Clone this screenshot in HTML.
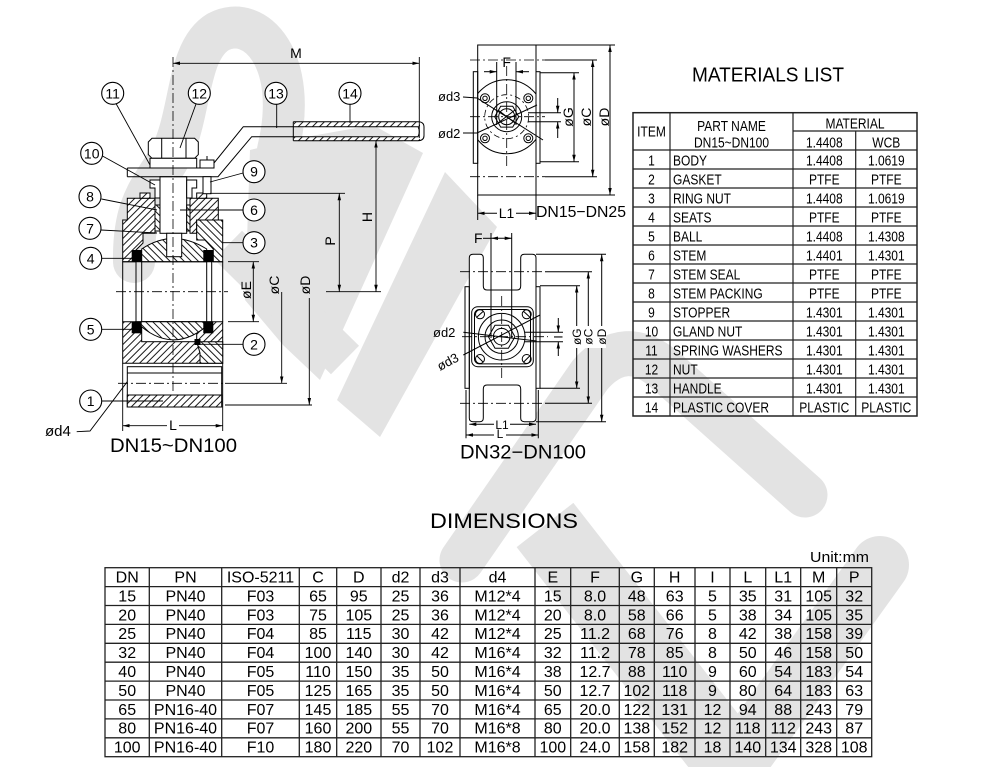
<!DOCTYPE html>
<html><head><meta charset="utf-8"><style>
html,body{margin:0;padding:0;background:#fff;}
svg{display:block;}
text{font-family:"Liberation Sans",sans-serif;fill:#000;}
</style></head><body>
<svg width="1000" height="767" viewBox="0 0 1000 767" xmlns="http://www.w3.org/2000/svg">
<defs>
<pattern id="h1" width="5" height="5" patternUnits="userSpaceOnUse" patternTransform="rotate(45)"><rect width="5" height="5" fill="#fff"/><line x1="0.5" y1="0" x2="0.5" y2="5" stroke="#000" stroke-width="0.9"/></pattern>
<pattern id="h2" width="5" height="5" patternUnits="userSpaceOnUse" patternTransform="rotate(-45)"><rect width="5" height="5" fill="#fff"/><line x1="0.5" y1="0" x2="0.5" y2="5" stroke="#000" stroke-width="0.9"/></pattern>
<marker id="a" viewBox="0 0 10 10" refX="10" refY="5" markerWidth="7" markerHeight="7" markerUnits="userSpaceOnUse" orient="auto-start-reverse"><path d="M0,2.5 L10,5 L0,7.5z" fill="#000"/></marker>
<clipPath id="cp1"><rect x="477.7" y="45" width="58.3" height="150"/></clipPath>
</defs>

<!-- watermark -->
<g fill="#e3e3e3" stroke="none">
<polygon points="250,150 300,138 373,125 423,153 320,380 283,345 245,300"/>
<polygon points="337,400 380,437 497,227 445,172"/>
</g>
<g stroke="#e3e3e3" fill="none" stroke-linecap="round" stroke-linejoin="round">
<path d="M278,150 C300,60 255,12 218,32 C185,52 192,120 168,160 C150,190 133,205 134,262" stroke-width="42"/>
<line x1="228" y1="245" x2="345" y2="360" stroke-width="40" stroke-linecap="butt"/>
<path d="M462,560 L590,375 Q625,335 665,370 L805,495" stroke-width="45"/>
<line x1="545" y1="525" x2="730" y2="762" stroke-width="72" stroke-linecap="butt"/>
<line x1="880" y1="565" x2="735" y2="767" stroke-width="58"/>
</g>

<!-- ================= LEFT DRAWING ================= -->
<g stroke="#000" stroke-width="1" fill="none">
<path d="M127.3,198.3 H155 V233.3 H143 V243 L136,250 V261.7 H122.7 V220 H127.3 Z" fill="url(#h1)"/>
<path d="M190,198.3 H218.3 V220 H196.7 V233.3 H190 Z" fill="url(#h1)"/>
<path d="M140,193 H150 V198.3 H140 Z" fill="url(#h1)"/>
<path d="M196.7,193 H206.7 V198.3 H196.7 Z" fill="url(#h1)"/>
<path d="M196.7,220 H222.7 V261.7 H213.3 V249 L205,240 H196.7 Z" fill="url(#h2)"/>
<path d="M141.7,261.7 V249 Q173,228 206.7,249 V261.7 Z" fill="url(#h2)"/>
<line x1="122.7" y1="261.7" x2="122.7" y2="321.7"/>
<line x1="222.7" y1="261.7" x2="222.7" y2="321.7"/>
<line x1="136" y1="261.7" x2="136" y2="321.7"/>
<line x1="141.7" y1="261.7" x2="141.7" y2="321.7"/>
<line x1="206.7" y1="261.7" x2="206.7" y2="321.7"/>
<line x1="211.7" y1="261.7" x2="211.7" y2="321.7"/>
<line x1="122.7" y1="261.7" x2="222.7" y2="261.7"/>
<path d="M122.7,321.7 H222.7 V363.3 H122.7 Z" fill="url(#h1)"/>
<rect x="141.7" y="321.7" width="55" height="20" fill="#fff"/>
<path d="M136,321.7 Q173,358 211.7,321.7 Z" fill="url(#h2)"/>
<path d="M196.7,341.7 H222.7 V363.3 H200 V353 Z" fill="url(#h2)"/>
<rect x="127.3" y="366.7" width="94.4" height="40.3" fill="#fff"/>
<line x1="127.3" y1="373" x2="221.7" y2="373"/>
<line x1="127.3" y1="395" x2="221.7" y2="395"/>
<rect x="127.3" y="395" width="94.4" height="12" fill="url(#h1)"/>
<rect x="160" y="176.7" width="26.7" height="56.6" fill="#fff"/>
<rect x="166.7" y="233.3" width="15" height="23.4" fill="#fff"/>
<rect x="155" y="205" width="5" height="26" fill="url(#h2)"/>
<rect x="186.7" y="205" width="3.3" height="26" fill="url(#h2)"/>
<path d="M150,180 H160 V198 H155 V188 H150 Z" fill="#fff"/>
<path d="M186.7,180 H196.7 V188 H192 V198 H186.7 Z" fill="#fff"/>
<path d="M127.3,168 H210 L243.3,126.7 H293.3" fill="none"/>
<path d="M127.3,176.7 H218 L251.7,136.7 H293.3" fill="none"/>
<line x1="127.3" y1="168" x2="127.3" y2="176.7"/>
<rect x="294" y="121.7" width="126" height="5" fill="url(#h1)" stroke="none"/>
<rect x="294" y="136.7" width="126" height="4" fill="url(#h1)" stroke="none"/>
<path d="M293.3,121.7 H418 Q424,121.7 424,127 V135.5 Q424,140.7 418,140.7 H293.3"/>
<line x1="293.3" y1="121.7" x2="293.3" y2="140.7"/>
<path d="M293.3,126.7 H418 Q420.5,131.7 418,136.7 H293.3"/>
<path d="M152,138.3 H194.6 L198.3,142 V154.6 L194.6,158.3 H152 L148.3,154.6 V142 Z" fill="#fff"/>
<line x1="161.7" y1="138.3" x2="161.7" y2="158.3"/>
<line x1="186" y1="138.3" x2="186" y2="158.3"/>
<rect x="150" y="158.3" width="46.7" height="9.7" fill="#fff"/>
<rect x="200" y="160" width="14" height="8" fill="#fff"/>
<rect x="203" y="176.7" width="8" height="17" fill="#fff"/>
<line x1="207" y1="156" x2="207" y2="160"/>
</g>
<g fill="#000">
<rect x="131.7" y="250" width="10" height="11.7"/>
<rect x="203.3" y="250" width="10" height="11.7"/>
<rect x="131.7" y="321.7" width="10" height="11.6"/>
<rect x="203.3" y="321.7" width="10" height="11.6"/>
<rect x="194.5" y="339" width="6" height="6"/>
</g>
<g stroke="#000" stroke-width="0.8" fill="none" stroke-dasharray="10 3 2 3">
<line x1="173" y1="57" x2="173" y2="392"/>
<line x1="116" y1="291.7" x2="228" y2="291.7"/>
<line x1="118" y1="383.3" x2="225" y2="383.3"/>
</g>
<g stroke="#000" stroke-width="0.9" fill="none">
<line x1="173" y1="63.3" x2="419.3" y2="63.3" marker-start="url(#a)" marker-end="url(#a)"/>
<line x1="419.3" y1="57" x2="419.3" y2="138"/>
<line x1="210" y1="193.3" x2="345" y2="193.3"/>
<line x1="326" y1="291.7" x2="381" y2="291.7"/>
<line x1="339.3" y1="193.3" x2="339.3" y2="291.7" marker-start="url(#a)" marker-end="url(#a)"/>
<line x1="376" y1="140.7" x2="376" y2="291.7" marker-start="url(#a)" marker-end="url(#a)"/>
<line x1="228" y1="261.7" x2="259" y2="261.7"/>
<line x1="228" y1="321.7" x2="259" y2="321.7"/>
<line x1="253.3" y1="261.7" x2="253.3" y2="321.7" marker-start="url(#a)" marker-end="url(#a)"/>
<line x1="225" y1="383.3" x2="287" y2="383.3"/>
<line x1="281.7" y1="292" x2="281.7" y2="383.3" marker-end="url(#a)"/>
<line x1="225" y1="405" x2="312" y2="405"/>
<line x1="309.3" y1="298" x2="309.3" y2="405" marker-end="url(#a)"/>
<line x1="122.7" y1="363.3" x2="122.7" y2="431"/>
<line x1="222.7" y1="363.3" x2="222.7" y2="431"/>
<line x1="122.7" y1="425.7" x2="167" y2="425.7" marker-start="url(#a)"/>
<line x1="179" y1="425.7" x2="222.7" y2="425.7" marker-end="url(#a)"/>
<polyline points="76.7,431.7 90,431 127.3,381.7"/>
<line x1="116" y1="103.5" x2="150" y2="165"/>
<line x1="196" y1="104" x2="180" y2="148"/>
<line x1="276.7" y1="104.5" x2="276.7" y2="128"/>
<line x1="350" y1="104.5" x2="350" y2="123"/>
<line x1="102.5" y1="156" x2="155" y2="185"/>
<line x1="243" y1="173" x2="210" y2="182"/>
<line x1="101.5" y1="199" x2="157" y2="210"/>
<line x1="243" y1="210" x2="180" y2="210"/>
<line x1="101" y1="230" x2="157" y2="233"/>
<line x1="243" y1="242.7" x2="222.7" y2="242.7"/>
<line x1="101.7" y1="258.3" x2="136.7" y2="258.3"/>
<line x1="101.7" y1="329.3" x2="135" y2="329.3"/>
<line x1="244" y1="344.3" x2="197" y2="344.3"/>
<line x1="101.7" y1="401" x2="163" y2="401"/>
</g>
<g stroke="#000" stroke-width="1.1" fill="#fff">
<circle cx="112.7" cy="93.3" r="11"/><circle cx="199.3" cy="93.3" r="11"/>
<circle cx="276" cy="93.3" r="11"/><circle cx="350" cy="93.3" r="11"/>
<circle cx="91.7" cy="153.3" r="11"/><circle cx="254" cy="171.7" r="11"/>
<circle cx="90" cy="196.7" r="11"/><circle cx="254" cy="210" r="11"/>
<circle cx="90" cy="228.3" r="11"/><circle cx="254" cy="242.7" r="11"/>
<circle cx="90.7" cy="258.3" r="11"/><circle cx="90.7" cy="329.3" r="11"/>
<circle cx="254" cy="344.3" r="11"/><circle cx="90.7" cy="401" r="11"/>
</g>
<g font-size="14" text-anchor="middle">
<text x="112.7" y="98.3">11</text><text x="199.3" y="98.3">12</text>
<text x="276" y="98.3">13</text><text x="350" y="98.3">14</text>
<text x="91.7" y="158.3">10</text><text x="254" y="176.7">9</text>
<text x="90" y="201.7">8</text><text x="254" y="215">6</text>
<text x="90" y="233.3">7</text><text x="254" y="247.7">3</text>
<text x="90.7" y="263.3">4</text><text x="90.7" y="334.3">5</text>
<text x="254" y="349.3">2</text><text x="90.7" y="406">1</text>
</g>
<g font-size="14" text-anchor="middle">
<text x="296" y="58">M</text>
<text x="173" y="430">L</text>
<text transform="translate(335,241) rotate(-90)">P</text>
<text transform="translate(372,217) rotate(-90)">H</text>
<text transform="translate(251,290) rotate(-90)">øE</text>
<text transform="translate(279,285) rotate(-90)">øC</text>
<text transform="translate(310,285) rotate(-90)">øD</text>
</g>
<text x="45" y="436" font-size="15">ød4</text>
<text x="110" y="452" font-size="19" textLength="127" lengthAdjust="spacingAndGlyphs">DN15~DN100</text>

<!-- ================= TOP MIDDLE DRAWING ================= -->
<g stroke="#000" stroke-width="1" fill="none">
<rect x="477.7" y="45" width="58.3" height="150" fill="#fff"/>
<rect x="473.3" y="71.7" width="4.4" height="91.6"/>
<rect x="536" y="71.7" width="4" height="91.6"/>
<g clip-path="url(#cp1)"><circle cx="506.7" cy="116.7" r="37"/></g>
<circle cx="506.7" cy="116.7" r="22" stroke-dasharray="6 3 2 3" stroke-width="0.8"/>
<circle cx="485" cy="98.3" r="4.5"/><circle cx="485" cy="98.3" r="2.2"/>
<circle cx="528.3" cy="98.3" r="4.5"/><circle cx="528.3" cy="98.3" r="2.2"/>
<circle cx="485" cy="138.3" r="4.5"/><circle cx="485" cy="138.3" r="2.2"/>
<circle cx="528.3" cy="138.3" r="4.5"/><circle cx="528.3" cy="138.3" r="2.2"/>
<circle cx="506.7" cy="116.7" r="15"/>
<polygon points="518.7,116.7 512.7,127.1 500.7,127.1 494.7,116.7 500.7,106.3 512.7,106.3"/>
<circle cx="506.7" cy="116.7" r="8"/>
<line x1="498" y1="110" x2="515" y2="123"/><line x1="498" y1="123" x2="515" y2="110"/>
<g stroke-dasharray="10 3 2 3" stroke-width="0.8">
<line x1="470" y1="60" x2="545" y2="60"/>
<line x1="470" y1="176.7" x2="545" y2="176.7"/>
<line x1="470" y1="116.7" x2="545" y2="116.7"/>
<line x1="506.7" y1="66" x2="506.7" y2="168"/>
</g>
<line x1="545" y1="60" x2="597" y2="60"/>
<line x1="545" y1="176.7" x2="597" y2="176.7"/>
<line x1="536" y1="45" x2="615" y2="45"/>
<line x1="536" y1="195" x2="615" y2="195"/>
<line x1="540" y1="72.7" x2="579" y2="72.7"/>
<line x1="540" y1="161.7" x2="579" y2="161.7"/>
<line x1="610" y1="45" x2="610" y2="195" marker-start="url(#a)" marker-end="url(#a)"/>
<line x1="592.7" y1="60" x2="592.7" y2="176.7" marker-start="url(#a)" marker-end="url(#a)"/>
<line x1="574" y1="72.7" x2="574" y2="161.7" marker-start="url(#a)" marker-end="url(#a)"/>
<line x1="528" y1="112.7" x2="561" y2="112.7"/>
<line x1="528" y1="121.7" x2="561" y2="121.7"/>
<line x1="557.7" y1="98" x2="557.7" y2="112.7" marker-end="url(#a)"/>
<line x1="557.7" y1="138" x2="557.7" y2="121.7" marker-end="url(#a)"/>
<line x1="496.7" y1="62" x2="496.7" y2="125"/>
<line x1="516" y1="62" x2="516" y2="125"/>
<line x1="484" y1="71.7" x2="496.7" y2="71.7" marker-end="url(#a)"/>
<line x1="529" y1="71.7" x2="516" y2="71.7" marker-end="url(#a)"/>
<polyline points="463,97 477,98 543,140"/>
<polyline points="463,133 477,133 537,105"/>
<line x1="477.7" y1="195" x2="477.7" y2="220"/>
<line x1="536" y1="195" x2="536" y2="220"/>
<line x1="477.7" y1="213.3" x2="497" y2="213.3" marker-start="url(#a)"/>
<line x1="516" y1="213.3" x2="536" y2="213.3" marker-end="url(#a)"/>
</g>
<g font-size="14" text-anchor="middle">
<text x="506.7" y="67">F</text>
<text x="506.5" y="218">L1</text>
<text transform="translate(573,117) rotate(-90)">øG</text>
<text transform="translate(591,117) rotate(-90)">øC</text>
<text transform="translate(609,117) rotate(-90)">øD</text>
</g>
<text x="438" y="101" font-size="13">ød3</text>
<text x="438" y="138" font-size="13">ød2</text>
<text x="536" y="217" font-size="16" textLength="90" lengthAdjust="spacingAndGlyphs">DN15−DN25</text>

<!-- ================= MIDDLE DRAWING ================= -->
<g stroke="#000" stroke-width="1" fill="none">
<path d="M469.3,258 Q469.3,254.3 473,254.3 H480 Q483.3,254.3 483.3,258 V286 Q483.3,290 487,290 H517 Q520.7,290 520.7,286 V258 Q520.7,254.3 524.4,254.3 H532.3 Q536,254.3 536,258 V418 Q536,421.7 532.3,421.7 H524.4 Q520.7,421.7 520.7,418 V389 Q520.7,385 517,385 H487 Q483.3,385 483.3,389 V418 Q483.3,421.7 480,421.7 H473 Q469.3,421.7 469.3,418 Z" fill="#fff"/>
<rect x="465" y="286.7" width="4.3" height="101.6"/>
<rect x="536" y="286.7" width="4" height="101.6"/>
<rect x="471.7" y="306.7" width="61.6" height="60" rx="6" fill="#fff"/>
<rect x="474.5" y="309.5" width="56" height="54.4" rx="5"/>
<circle cx="480" cy="314.3" r="4.5"/><line x1="477" y1="317" x2="483" y2="311.5"/>
<circle cx="526.7" cy="314.3" r="4.5"/><line x1="523.7" y1="311.5" x2="529.7" y2="317"/>
<circle cx="480" cy="359" r="4.5"/><line x1="477" y1="356" x2="483" y2="362"/>
<circle cx="526.7" cy="359" r="4.5"/><line x1="523.7" y1="362" x2="529.7" y2="356"/>
<circle cx="501.7" cy="336.7" r="23.3"/>
<circle cx="501.7" cy="336.7" r="16.7"/>
<polygon points="515,336.7 508.4,348.2 495,348.2 488.4,336.7 495,325.2 508.4,325.2"/>
<circle cx="501.7" cy="336.7" r="8.3"/>
<g stroke-dasharray="10 3 2 3" stroke-width="0.8">
<line x1="460" y1="271.7" x2="545" y2="271.7"/>
<line x1="460" y1="403.3" x2="545" y2="403.3"/>
<line x1="462" y1="336.7" x2="548" y2="336.7"/>
<line x1="501.7" y1="296" x2="501.7" y2="378"/>
</g>
<line x1="491" y1="233" x2="491" y2="338"/>
<line x1="511.7" y1="233" x2="511.7" y2="338"/>
<line x1="483" y1="238.3" x2="491" y2="238.3"/>
<line x1="491" y1="238.3" x2="511.7" y2="238.3" marker-start="url(#a)" marker-end="url(#a)"/>
<line x1="536" y1="254.3" x2="606" y2="254.3"/>
<line x1="536" y1="421.7" x2="606" y2="421.7"/>
<line x1="545" y1="271.7" x2="592" y2="271.7"/>
<line x1="545" y1="403.3" x2="592" y2="403.3"/>
<line x1="540" y1="285.7" x2="580" y2="285.7"/>
<line x1="540" y1="388.3" x2="580" y2="388.3"/>
<line x1="601.7" y1="254.3" x2="601.7" y2="421.7" marker-start="url(#a)" marker-end="url(#a)"/>
<line x1="588.3" y1="271.7" x2="588.3" y2="403.3" marker-start="url(#a)" marker-end="url(#a)"/>
<line x1="576.7" y1="285.7" x2="576.7" y2="388.3" marker-start="url(#a)" marker-end="url(#a)"/>
<line x1="525" y1="332.3" x2="563" y2="332.3"/>
<line x1="525" y1="341.7" x2="563" y2="341.7"/>
<line x1="558.3" y1="318" x2="558.3" y2="332.3" marker-end="url(#a)"/>
<line x1="558.3" y1="356" x2="558.3" y2="341.7" marker-end="url(#a)"/>
<line x1="463.3" y1="332.3" x2="536.7" y2="341"/>
<line x1="463.3" y1="355" x2="540" y2="315"/>
<line x1="466" y1="390" x2="466" y2="438.3"/>
<line x1="538.3" y1="390" x2="538.3" y2="438.3"/>
<line x1="469.3" y1="424.3" x2="494" y2="424.3" marker-start="url(#a)"/>
<line x1="510" y1="424.3" x2="536" y2="424.3" marker-end="url(#a)"/>
<line x1="466" y1="435" x2="494" y2="435" marker-start="url(#a)"/>
<line x1="506" y1="435" x2="538.3" y2="435" marker-end="url(#a)"/>
</g>
<g font-size="12" text-anchor="middle">
<rect x="570" y="326" width="36" height="22" fill="#fff"/>
<text transform="translate(580.8,336.7) rotate(-90)">øG</text>
<text transform="translate(592.4,336.7) rotate(-90)">øC</text>
<text transform="translate(605.8,336.7) rotate(-90)">øD</text>
<text transform="translate(562.3,337) rotate(-90)">I</text>
<text x="502" y="429">L1</text>
<text x="500" y="438">L</text>
</g>
<text x="474" y="243" font-size="14">F</text>
<text x="433" y="337" font-size="13">ød2</text>
<text transform="translate(440,371) rotate(-28)" font-size="13">ød3</text>
<text x="460" y="458.3" font-size="19" textLength="126" lengthAdjust="spacingAndGlyphs">DN32−DN100</text>

<!-- ================= MATERIALS LIST ================= -->
<text x="692" y="81.7" font-size="20" textLength="152" lengthAdjust="spacingAndGlyphs">MATERIALS LIST</text>
<g stroke="#222" stroke-width="1.2" fill="none">
<rect x="633" y="112.7" width="284" height="303.3" stroke-width="1.5"/>
<line x1="670" y1="112.7" x2="670" y2="416"/>
<line x1="793" y1="112.7" x2="793" y2="416"/>
<line x1="855.7" y1="131" x2="855.7" y2="416"/>
<line x1="793" y1="131" x2="917" y2="131"/>
<line x1="633" y1="150" x2="917" y2="150"/>
<line x1="633" y1="169" x2="917" y2="169"/><line x1="633" y1="188" x2="917" y2="188"/>
<line x1="633" y1="207" x2="917" y2="207"/><line x1="633" y1="226" x2="917" y2="226"/>
<line x1="633" y1="245" x2="917" y2="245"/><line x1="633" y1="264" x2="917" y2="264"/>
<line x1="633" y1="283" x2="917" y2="283"/><line x1="633" y1="302" x2="917" y2="302"/>
<line x1="633" y1="321" x2="917" y2="321"/><line x1="633" y1="340" x2="917" y2="340"/>
<line x1="633" y1="359" x2="917" y2="359"/><line x1="633" y1="378" x2="917" y2="378"/>
<line x1="633" y1="397" x2="917" y2="397"/>
</g>
<g font-size="15" text-anchor="middle">
<g transform="translate(651.5,0) scale(0.8,1)">
<text x="0" y="136.7">ITEM</text>
<text x="0" y="165.5">1</text><text x="0" y="184.5">2</text><text x="0" y="203.5">3</text>
<text x="0" y="222.5">4</text><text x="0" y="241.5">5</text><text x="0" y="260.5">6</text>
<text x="0" y="279.5">7</text><text x="0" y="298.5">8</text><text x="0" y="317.5">9</text>
<text x="0" y="336.5">10</text><text x="0" y="355.5">11</text><text x="0" y="374.5">12</text>
<text x="0" y="393.5">13</text><text x="0" y="412.5">14</text>
</g>
<g transform="translate(731.5,0) scale(0.8,1)">
<text x="0" y="131">PART  NAME</text>
<text x="0" y="147.3">DN15~DN100</text>
</g>
<g transform="translate(855,0) scale(0.8,1)">
<text x="0" y="128.3">MATERIAL</text>
</g>
<g transform="translate(824.3,0) scale(0.8,1)">
<text x="0" y="147.3">1.4408</text>
<text x="0" y="165.5">1.4408</text><text x="0" y="184.5">PTFE</text><text x="0" y="203.5">1.4408</text>
<text x="0" y="222.5">PTFE</text><text x="0" y="241.5">1.4408</text><text x="0" y="260.5">1.4401</text>
<text x="0" y="279.5">PTFE</text><text x="0" y="298.5">PTFE</text><text x="0" y="317.5">1.4301</text>
<text x="0" y="336.5">1.4301</text><text x="0" y="355.5">1.4301</text><text x="0" y="374.5">1.4301</text>
<text x="0" y="393.5">1.4301</text><text x="0" y="412.5">PLASTIC</text>
</g>
<g transform="translate(886.3,0) scale(0.8,1)">
<text x="0" y="147.3">WCB</text>
<text x="0" y="165.5">1.0619</text><text x="0" y="184.5">PTFE</text><text x="0" y="203.5">1.0619</text>
<text x="0" y="222.5">PTFE</text><text x="0" y="241.5">1.4308</text><text x="0" y="260.5">1.4301</text>
<text x="0" y="279.5">PTFE</text><text x="0" y="298.5">PTFE</text><text x="0" y="317.5">1.4301</text>
<text x="0" y="336.5">1.4301</text><text x="0" y="355.5">1.4301</text><text x="0" y="374.5">1.4301</text>
<text x="0" y="393.5">1.4301</text><text x="0" y="412.5">PLASTIC</text>
</g>
</g>
<g font-size="15" transform="translate(673,0) scale(0.8,1)">
<text x="0" y="165.5">BODY</text><text x="0" y="184.5">GASKET</text><text x="0" y="203.5">RING NUT</text>
<text x="0" y="222.5">SEATS</text><text x="0" y="241.5">BALL</text><text x="0" y="260.5">STEM</text>
<text x="0" y="279.5">STEM SEAL</text><text x="0" y="298.5">STEM PACKING</text><text x="0" y="317.5">STOPPER</text>
<text x="0" y="336.5">GLAND NUT</text><text x="0" y="355.5">SPRING WASHERS</text><text x="0" y="374.5">NUT</text>
<text x="0" y="393.5">HANDLE</text><text x="0" y="412.5">PLASTIC COVER</text>
</g>

<!-- ================= DIMENSIONS ================= -->
<text x="430" y="528" font-size="21" textLength="148" lengthAdjust="spacingAndGlyphs">DIMENSIONS</text>
<text x="810" y="562" font-size="15" textLength="59" lengthAdjust="spacingAndGlyphs">Unit:mm</text>
<g stroke="#222" stroke-width="1.3" fill="none">
<rect x="105" y="567.7" width="766.7" height="189"/>
<line x1="149.3" y1="567.7" x2="149.3" y2="756.7"/><line x1="221.7" y1="567.7" x2="221.7" y2="756.7"/>
<line x1="299.3" y1="567.7" x2="299.3" y2="756.7"/><line x1="336.7" y1="567.7" x2="336.7" y2="756.7"/>
<line x1="381" y1="567.7" x2="381" y2="756.7"/><line x1="420" y1="567.7" x2="420" y2="756.7"/>
<line x1="460" y1="567.7" x2="460" y2="756.7"/><line x1="535" y1="567.7" x2="535" y2="756.7"/>
<line x1="570.7" y1="567.7" x2="570.7" y2="756.7"/><line x1="619.3" y1="567.7" x2="619.3" y2="756.7"/>
<line x1="654.3" y1="567.7" x2="654.3" y2="756.7"/><line x1="695" y1="567.7" x2="695" y2="756.7"/>
<line x1="730" y1="567.7" x2="730" y2="756.7"/><line x1="765.7" y1="567.7" x2="765.7" y2="756.7"/>
<line x1="800.7" y1="567.7" x2="800.7" y2="756.7"/><line x1="836.7" y1="567.7" x2="836.7" y2="756.7"/>
<line x1="105" y1="586.6" x2="871.7" y2="586.6"/><line x1="105" y1="605.5" x2="871.7" y2="605.5"/>
<line x1="105" y1="624.4" x2="871.7" y2="624.4"/><line x1="105" y1="643.3" x2="871.7" y2="643.3"/>
<line x1="105" y1="662.2" x2="871.7" y2="662.2"/><line x1="105" y1="681.1" x2="871.7" y2="681.1"/>
<line x1="105" y1="700" x2="871.7" y2="700"/><line x1="105" y1="718.9" x2="871.7" y2="718.9"/>
<line x1="105" y1="737.8" x2="871.7" y2="737.8"/>
</g>
<g font-size="16" text-anchor="middle">
<g transform="translate(127.2,0)"><text y="582.5">DN</text><text y="601.4">15</text><text y="620.3">20</text><text y="639.2">25</text><text y="658.1">32</text><text y="677">40</text><text y="695.9">50</text><text y="714.8">65</text><text y="733.7">80</text><text y="752.6">100</text></g>
<g transform="translate(185.5,0)"><text y="582.5">PN</text><text y="601.4">PN40</text><text y="620.3">PN40</text><text y="639.2">PN40</text><text y="658.1">PN40</text><text y="677">PN40</text><text y="695.9">PN40</text><text y="714.8">PN16-40</text><text y="733.7">PN16-40</text><text y="752.6">PN16-40</text></g>
<g transform="translate(260.5,0)"><text y="582.5">ISO-5211</text><text y="601.4">F03</text><text y="620.3">F03</text><text y="639.2">F04</text><text y="658.1">F04</text><text y="677">F05</text><text y="695.9">F05</text><text y="714.8">F07</text><text y="733.7">F07</text><text y="752.6">F10</text></g>
<g transform="translate(318,0)"><text y="582.5">C</text><text y="601.4">65</text><text y="620.3">75</text><text y="639.2">85</text><text y="658.1">100</text><text y="677">110</text><text y="695.9">125</text><text y="714.8">145</text><text y="733.7">160</text><text y="752.6">180</text></g>
<g transform="translate(358.8,0)"><text y="582.5">D</text><text y="601.4">95</text><text y="620.3">105</text><text y="639.2">115</text><text y="658.1">140</text><text y="677">150</text><text y="695.9">165</text><text y="714.8">185</text><text y="733.7">200</text><text y="752.6">220</text></g>
<g transform="translate(400.5,0)"><text y="582.5">d2</text><text y="601.4">25</text><text y="620.3">25</text><text y="639.2">30</text><text y="658.1">30</text><text y="677">35</text><text y="695.9">35</text><text y="714.8">55</text><text y="733.7">55</text><text y="752.6">70</text></g>
<g transform="translate(440,0)"><text y="582.5">d3</text><text y="601.4">36</text><text y="620.3">36</text><text y="639.2">42</text><text y="658.1">42</text><text y="677">50</text><text y="695.9">50</text><text y="714.8">70</text><text y="733.7">70</text><text y="752.6">102</text></g>
<g transform="translate(497.5,0)"><text y="582.5">d4</text><text y="601.4">M12*4</text><text y="620.3">M12*4</text><text y="639.2">M12*4</text><text y="658.1">M16*4</text><text y="677">M16*4</text><text y="695.9">M16*4</text><text y="714.8">M16*4</text><text y="733.7">M16*8</text><text y="752.6">M16*8</text></g>
<g transform="translate(552.8,0)"><text y="582.5">E</text><text y="601.4">15</text><text y="620.3">20</text><text y="639.2">25</text><text y="658.1">32</text><text y="677">38</text><text y="695.9">50</text><text y="714.8">65</text><text y="733.7">80</text><text y="752.6">100</text></g>
<g transform="translate(595,0)"><text y="582.5">F</text><text y="601.4">8.0</text><text y="620.3">8.0</text><text y="639.2">11.2</text><text y="658.1">11.2</text><text y="677">12.7</text><text y="695.9">12.7</text><text y="714.8">20.0</text><text y="733.7">20.0</text><text y="752.6">24.0</text></g>
<g transform="translate(636.8,0)"><text y="582.5">G</text><text y="601.4">48</text><text y="620.3">58</text><text y="639.2">68</text><text y="658.1">78</text><text y="677">88</text><text y="695.9">102</text><text y="714.8">122</text><text y="733.7">138</text><text y="752.6">158</text></g>
<g transform="translate(674.7,0)"><text y="582.5">H</text><text y="601.4">63</text><text y="620.3">66</text><text y="639.2">76</text><text y="658.1">85</text><text y="677">110</text><text y="695.9">118</text><text y="714.8">131</text><text y="733.7">152</text><text y="752.6">182</text></g>
<g transform="translate(712.5,0)"><text y="582.5">I</text><text y="601.4">5</text><text y="620.3">5</text><text y="639.2">8</text><text y="658.1">8</text><text y="677">9</text><text y="695.9">9</text><text y="714.8">12</text><text y="733.7">12</text><text y="752.6">18</text></g>
<g transform="translate(747.8,0)"><text y="582.5">L</text><text y="601.4">35</text><text y="620.3">38</text><text y="639.2">42</text><text y="658.1">50</text><text y="677">60</text><text y="695.9">80</text><text y="714.8">94</text><text y="733.7">118</text><text y="752.6">140</text></g>
<g transform="translate(783.2,0)"><text y="582.5">L1</text><text y="601.4">31</text><text y="620.3">34</text><text y="639.2">38</text><text y="658.1">46</text><text y="677">54</text><text y="695.9">64</text><text y="714.8">88</text><text y="733.7">112</text><text y="752.6">134</text></g>
<g transform="translate(818.7,0)"><text y="582.5">M</text><text y="601.4">105</text><text y="620.3">105</text><text y="639.2">158</text><text y="658.1">158</text><text y="677">183</text><text y="695.9">183</text><text y="714.8">243</text><text y="733.7">243</text><text y="752.6">328</text></g>
<g transform="translate(854.2,0)"><text y="582.5">P</text><text y="601.4">32</text><text y="620.3">35</text><text y="639.2">39</text><text y="658.1">50</text><text y="677">54</text><text y="695.9">63</text><text y="714.8">79</text><text y="733.7">87</text><text y="752.6">108</text></g>
</g>
</svg>
</body></html>
